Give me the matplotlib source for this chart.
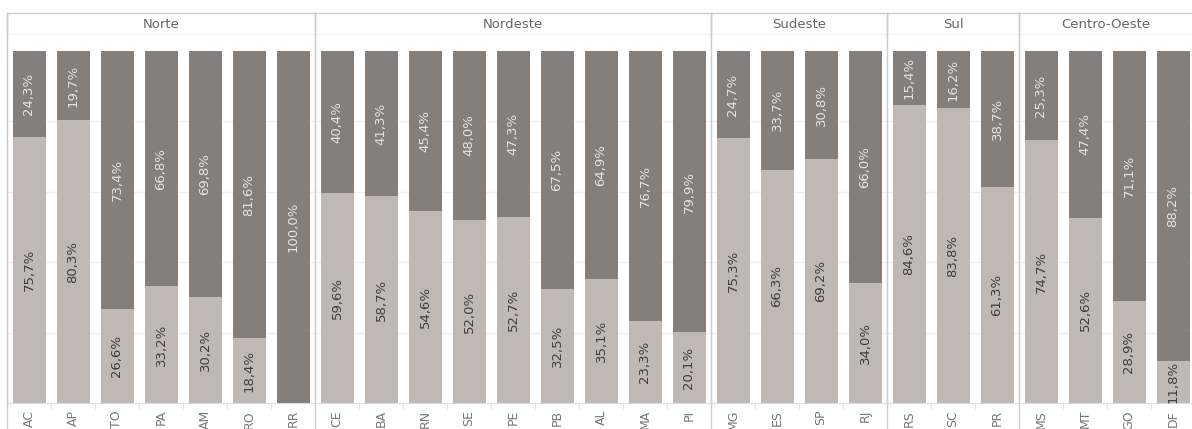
import matplotlib
matplotlib.use("Agg")
import matplotlib.pyplot as plt
from matplotlib.lines import Line2D

regions = ["Norte", "Nordeste", "Sudeste", "Sul", "Centro-Oeste"]
states = [
    ["AC", "AP", "TO", "PA", "AM", "RO", "RR"],
    ["CE", "BA", "RN", "SE", "PE", "PB", "AL", "MA", "PI"],
    ["MG", "ES", "SP", "RJ"],
    ["RS", "SC", "PR"],
    ["MS", "MT", "GO", "DF"],
]
lower = [
    [75.7, 80.3, 26.6, 33.2, 30.2, 18.4, 0.0],
    [59.6, 58.7, 54.6, 52.0, 52.7, 32.5, 35.1, 23.3, 20.1],
    [75.3, 66.3, 69.2, 34.0],
    [84.6, 83.8, 61.3],
    [74.7, 52.6, 28.9, 11.8],
]
upper = [
    [24.3, 19.7, 73.4, 66.8, 69.8, 81.6, 100.0],
    [40.4, 41.3, 45.4, 48.0, 47.3, 67.5, 64.9, 76.7, 79.9],
    [24.7, 33.7, 30.8, 66.0],
    [15.4, 16.2, 38.7],
    [25.3, 47.4, 71.1, 88.2],
]

W, H = 1192, 429
fig = plt.figure(figsize=(W / 100, H / 100), dpi=100)

c_light = "#bfb8b4"
c_dark = "#857f7b"
c_line = "#cccccc"
c_grid = "#efefef"

x0 = 7
slot = 44.0
y_head_top = 13
y_head_bot = 35
y_bar_top = 51
y_bar_bot = 403


def fx(px):
    return px / W


def fy(py):
    return 1 - py / H


ymax = 100 * (y_bar_bot - y_head_bot) / (y_bar_bot - y_bar_top)

cur = x0
for reg, sts, lo, up in zip(regions, states, lower, upper):
    n = len(sts)
    wpx = n * slot
    # header axes
    hax = fig.add_axes([fx(cur), fy(y_head_bot), fx(wpx), (y_head_bot - y_head_top) / H])
    hax.set_xticks([]); hax.set_yticks([])
    for s in hax.spines.values():
        s.set_color(c_line); s.set_linewidth(1.0)
    hax.spines["right"].set_visible(False)
    vis_w = min(cur + wpx, W) - cur
    hax.text((vis_w / wpx) * 0.5 if cur + wpx > W else 0.5, 0.5, reg, ha="center", va="center",
             fontsize=9.5, color="#666666", transform=hax.transAxes)

    ax = fig.add_axes([fx(cur), fy(y_bar_bot), fx(wpx), (y_bar_bot - y_head_bot) / H])
    ax.set_xlim(-0.5, n - 0.5)
    ax.set_ylim(0, ymax)
    xs = list(range(n))
    ax.set_yticks([20, 40, 60, 80])
    ax.yaxis.grid(True, color=c_grid, linewidth=1.0)
    ax.set_axisbelow(True)
    ax.tick_params(axis="y", left=False, labelleft=False)
    ax.bar(xs, lo, width=0.75, color=c_light, zorder=2)
    ax.bar(xs, up, bottom=lo, width=0.75, color=c_dark, zorder=2)
    for i in xs:
        if lo[i] > 0:
            ax.text(i, lo[i] / 2, f"{lo[i]:.1f}%".replace(".", ","), rotation=90,
                    ha="center", va="center", fontsize=9.5, color="#3f3f3f", zorder=3)
        if up[i] > 0:
            ax.text(i, lo[i] + up[i] / 2, f"{up[i]:.1f}%".replace(".", ","), rotation=90,
                    ha="center", va="center", fontsize=9.5, color="#e6e2df", zorder=3)
    ax.set_xticks(xs)
    ax.set_xticklabels(sts, rotation=90, fontsize=9, color="#777777")
    ax.tick_params(axis="x", length=0, pad=5)
    ax.set_xticks([i + 0.5 for i in range(n - 1)], minor=True)
    ax.tick_params(axis="x", which="minor", length=4, color="#e0e0e0")
    for k in ["top", "right"]:
        ax.spines[k].set_visible(False)
    ax.spines["left"].set_color(c_line)
    ax.spines["bottom"].set_color("#dddddd")
    # panel separator extends to bottom of figure
    fig.add_artist(Line2D([fx(cur), fx(cur)], [0, fy(y_head_top)], color=c_line, linewidth=1.0))
    cur += wpx

fig.savefig("out.png", dpi=100)
